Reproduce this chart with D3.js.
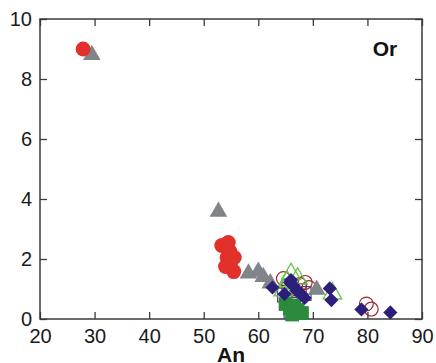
<!DOCTYPE html>
<html>
<head>
<meta charset="utf-8">
<script src="https://cdn.jsdelivr.net/npm/d3@7"></script>
<style>
  body { margin: 0; background: #fff; }
  svg { display: block; font-family: "Liberation Sans", Arial, sans-serif; }
</style>
</head>
<body>
<svg id="chart" width="436" height="363"></svg>
<script>
// values: [An, Or]
const redFilled = [[27.9,9.0],[53.3,2.45],[54.5,2.55],[54.8,2.25],[54.3,2.05],[55.6,2.05],[54.0,1.75],[55.0,1.72],[55.5,1.58]];
const grayTri = [[29.5,8.8],[52.7,3.58],[58.2,1.52],[60.0,1.58],[60.9,1.4],[62.2,1.19],[70.7,0.98]];
const greenTri = [[66.0,1.5],[67.2,1.35],[64.6,0.95],[66.6,1.05],[73.6,0.85],[65.3,1.25]];
const redOpen = [[64.6,1.35],[67.6,1.15],[68.6,1.22],[69.3,1.05],[79.8,0.5],[80.7,0.33]];
const purpleSq = [[64.8,0.8],[66.2,0.55],[67.5,0.95],[68.4,0.85],[66.0,0.25],[65.6,1.1]];
const greenSq = [[65.0,0.5],[65.8,0.35],[66.6,0.45],[67.2,0.3],[68.0,0.2],[66.2,0.15]];
const navyDia = [[62.6,1.05],[64.8,0.83],[65.8,1.22],[66.5,1.1],[67.0,0.95],[66.0,1.3],[67.8,0.85],[68.5,0.7],[73.1,1.02],[73.4,0.63],[78.9,0.32],[84.2,0.22]];

const xTicks = [20,30,40,50,60,70,80,90];
const yTicks = [0,2,4,6,8,10];

const svg = d3.select("#chart");
const x = d3.scaleLinear().domain([20,90]).range([40,422]);
const y = d3.scaleLinear().domain([0,10]).range([319,19]);

const axisColor = "#3a3a3a";

function styleAxis(g) {
  g.select(".domain").remove();
  g.selectAll(".tick line").attr("stroke", axisColor).attr("stroke-width", 1.3);
  g.selectAll(".tick text").attr("fill", "#1a1a1a").style("font-size", "20px");
}

// ticks point inward on all four sides
svg.append("g").attr("transform", "translate(0,319)")
  .call(d3.axisBottom(x).tickValues(xTicks).tickSize(-7).tickPadding(10).tickFormat(d3.format("d")))
  .call(styleAxis);
svg.append("g").attr("transform", "translate(0,19)")
  .call(d3.axisTop(x).tickValues(xTicks).tickSize(-7).tickFormat(""))
  .call(styleAxis);
svg.append("g").attr("transform", "translate(40,0)")
  .call(d3.axisLeft(y).tickValues(yTicks).tickSize(-7).tickPadding(8).tickFormat(d3.format("d")))
  .call(styleAxis);
svg.append("g").attr("transform", "translate(422,0)")
  .call(d3.axisRight(y).tickValues(yTicks).tickSize(-7).tickFormat(""))
  .call(styleAxis);

svg.append("rect")
  .attr("x", x(20)).attr("y", y(10))
  .attr("width", x(90) - x(20)).attr("height", y(0) - y(10))
  .attr("fill", "none").attr("stroke", axisColor).attr("stroke-width", 1.5);

const marks = svg.append("g");
function plot(data, type, size, fill, stroke, sw, rot) {
  marks.selectAll(null).data(data).enter().append("path")
    .attr("d", d3.symbol().type(type).size(size))
    .attr("transform", d => `translate(${x(d[0])},${y(d[1])})` + (rot ? ` rotate(${rot})` : ""))
    .attr("fill", fill).attr("stroke", stroke).attr("stroke-width", sw);
}

plot(purpleSq, d3.symbolSquare, 190, "none", "#4f3f9a", 1.2);
plot(greenSq, d3.symbolSquare, 190, "#2c8a3c", "none", 0);
plot(redOpen, d3.symbolCircle, 150, "none", "#9c2a2a", 1.2);
plot(greenTri, d3.symbolTriangle, 150, "none", "#66c247", 1.3);
plot(grayTri, d3.symbolTriangle, 135, "#7f8588", "none", 0);
plot(redFilled, d3.symbolCircle, 175, "#e2302b", "none", 0);
plot(navyDia, d3.symbolSquare, 100, "#2c1f7a", "none", 0, 45);

svg.append("text").attr("x", 385).attr("y", 56).attr("text-anchor", "middle")
  .style("font-size", "21px").style("font-weight", "bold").attr("fill", "#111").text("Or");
svg.append("text").attr("x", 231).attr("y", 362).attr("text-anchor", "middle")
  .style("font-size", "21px").style("font-weight", "bold").attr("fill", "#111").text("An");
</script>
</body>
</html>
